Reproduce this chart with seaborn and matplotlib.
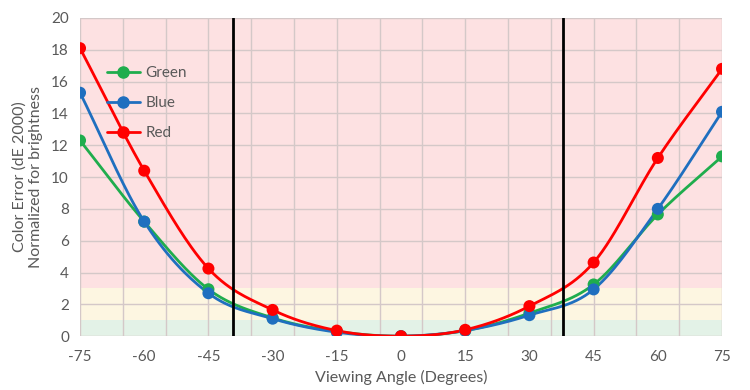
import numpy as np
import pandas as pd
import matplotlib
matplotlib.use("Agg")
import matplotlib.pyplot as plt
import seaborn as sns
from matplotlib.lines import Line2D

angles = [-75, -60, -45, -30, -15, 0, 15, 30, 45, 60, 75]
green = [12.3, 7.2, 2.95, 1.15, 0.3, 0.0, 0.35, 1.45, 3.25, 7.65, 11.3]
blue = [15.3, 7.2, 2.7, 1.1, 0.25, 0.0, 0.35, 1.32, 2.94, 8.0, 14.1]
red = [18.1, 10.4, 4.25, 1.65, 0.35, 0.0, 0.4, 1.89, 4.63, 11.2, 16.8]
series_names = ["Green", "Blue", "Red"]
series_colors = {"Green": "#1fad4d", "Blue": "#1f6fbf", "Red": "#ff0000"}
limit_angles = [-39.2, 37.9]
bands = [(0, 1, "#e3f2e7"), (1, 3, "#fdf6e1"), (3, 20, "#fde1e2")]
xticks = [-75, -60, -45, -30, -15, 0, 15, 30, 45, 60, 75]
yticks = list(range(0, 21, 2))

sns.set_theme(style="white")
plt.rcParams["font.family"] = ["Lato", "DejaVu Sans"]
txt = "#595959"

def catmull(xs, ys, n=30, tension=0.5):
    xs = np.asarray(xs, float); ys = np.asarray(ys, float)
    px = np.concatenate([[2*xs[0]-xs[1]], xs, [2*xs[-1]-xs[-2]]])
    py = np.concatenate([[2*ys[0]-ys[1]], ys, [2*ys[-1]-ys[-2]]])
    ox, oy = [], []
    for i in range(1, len(px)-2):
        p0, p1, p2, p3 = [np.array([px[j], py[j]]) for j in (i-1, i, i+1, i+2)]
        m1 = tension*(p2-p0)
        m2 = tension*(p3-p1)
        t = np.linspace(0, 1, n, endpoint=False)[:, None]
        h00 = 2*t**3-3*t**2+1; h10 = t**3-2*t**2+t; h01 = -2*t**3+3*t**2; h11 = t**3-t**2
        pts = h00*p1 + h10*m1 + h01*p2 + h11*m2
        ox.extend(pts[:, 0]); oy.extend(pts[:, 1])
    ox.append(xs[-1]); oy.append(ys[-1])
    return np.array(ox), np.array(oy)

fig = plt.figure(figsize=(7.5, 3.9), dpi=100)
ax = fig.add_axes([0.1067, 0.138, 0.856, 0.816])

for lo, hi, c in bands:
    ax.axhspan(lo, hi, color=c, zorder=0, lw=0)

for xv in range(-75, 76, 10):
    ax.axvline(xv, color="#d4c8c8", lw=1, zorder=1)
for yv in yticks:
    ax.axhline(yv, color="#d4c8c8", lw=1, zorder=1)

data = {"Green": green, "Blue": blue, "Red": red}
smooth_frames = []
point_frames = []
for name in series_names:
    sx, sy = catmull(angles, data[name])
    smooth_frames.append(pd.DataFrame({"angle": sx, "err": sy, "series": name}))
    point_frames.append(pd.DataFrame({"angle": angles, "err": data[name], "series": name}))
smooth = pd.concat(smooth_frames)
points = pd.concat(point_frames)

sns.lineplot(data=smooth, x="angle", y="err", hue="series", palette=series_colors,
             hue_order=series_names, sort=False, estimator=None, lw=2, ax=ax, legend=False, zorder=3)
sns.scatterplot(data=points, x="angle", y="err", hue="series", palette=series_colors,
                hue_order=series_names, s=75, edgecolor="none", ax=ax, legend=False, zorder=4)

for xv in limit_angles:
    ax.axvline(xv, color="black", lw=2, zorder=5)

handles = [Line2D([], [], color=series_colors[n], lw=2, marker="o", markersize=8) for n in series_names]
leg = ax.legend(handles, series_names, loc="upper left", bbox_to_anchor=(0.02, 0.892),
                frameon=False, fontsize=11, handlelength=2.2, labelspacing=1.05, handletextpad=0.35)
for t in leg.get_texts():
    t.set_color(txt)

ax.set_xlim(-75, 75)
ax.set_ylim(0, 20)
ax.set_xticks(xticks)
ax.set_yticks(yticks)
ax.set_xticklabels([str(v) for v in xticks], color=txt, fontsize=11)
ax.set_yticklabels([str(v) for v in yticks], color=txt, fontsize=11)
ax.tick_params(axis="x", pad=10, length=0)
ax.tick_params(axis="y", pad=8, length=0)
ax.set_xlabel("Viewing Angle (Degrees)", color=txt, fontsize=11.5, labelpad=4)
ax.set_ylabel("Color Error (dE 2000)\nNormalized for brightness", color=txt, fontsize=11.5, labelpad=6)
for s in ax.spines.values():
    s.set_visible(False)

fig.savefig("out.png", dpi=100)
